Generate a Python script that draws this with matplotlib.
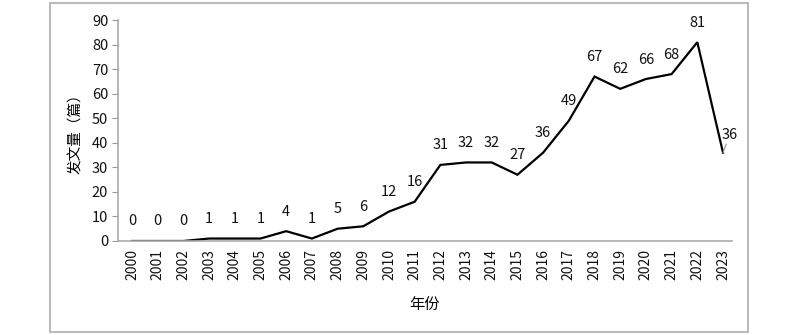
import matplotlib
matplotlib.use("Agg")
import matplotlib.pyplot as plt
from matplotlib.patches import Rectangle

plt.rcParams['font.family'] = ['Noto Sans CJK SC', 'DejaVu Sans']

years = list(range(2000, 2024))
counts = [0, 0, 0, 1, 1, 1, 4, 1, 5, 6, 12, 16, 31, 32, 32, 27, 36, 49, 67, 62, 66, 68, 81, 36]
y_ticks = [0, 10, 20, 30, 40, 50, 60, 70, 80, 90]

fig = plt.figure(figsize=(8, 3.35), dpi=100)
ax = fig.add_axes([0.1475, 0.2806, 0.7675, 0.6594])

ax.plot(years, counts, color='black', lw=1.6, solid_joinstyle='miter')

for x, y in zip(years[:-1], counts[:-1]):
    ax.annotate(str(y), (x, y), xytext=(0, 9), textcoords='offset points',
                ha='center', va='bottom', fontsize=10.5, color='#111111')
# last point labelled to the right with a short leader
ax.annotate(str(counts[-1]), (years[-1], counts[-1]), xytext=(5, 8),
            textcoords='offset points', ha='center', va='bottom',
            fontsize=10.5, color='#111111',
            arrowprops=dict(arrowstyle='-', color='#999999', lw=0.9,
                            shrinkA=0, shrinkB=0))

ax.set_xlim(1999.455, 2023.35)
ax.set_ylim(0, 90)
ax.set_yticks(y_ticks)
ax.set_xticks(years)
ax.set_xticklabels([str(y) for y in years], rotation=90)
ax.tick_params(axis='y', length=4, color='#999999', labelsize=10.5, pad=3,
               labelcolor='#111111')
ax.tick_params(axis='x', length=0, labelsize=10, pad=6, labelcolor='#111111')

for s in ['top', 'right']:
    ax.spines[s].set_visible(False)
for s in ['left', 'bottom']:
    ax.spines[s].set_color('#aaaaaa')
    ax.spines[s].set_linewidth(1.2)

ax.set_ylabel('发文量（篇）', fontsize=10.5, labelpad=6)
ax.set_xlabel('年份', fontsize=11, labelpad=11)

# light grey frame around the whole chart
fig.patches.append(Rectangle((50 / 800, 3 / 335), 698 / 800, 329 / 335,
                             transform=fig.transFigure, fill=False,
                             edgecolor='#bbbbbb', lw=1.5))

fig.savefig('out.png', dpi=100)
